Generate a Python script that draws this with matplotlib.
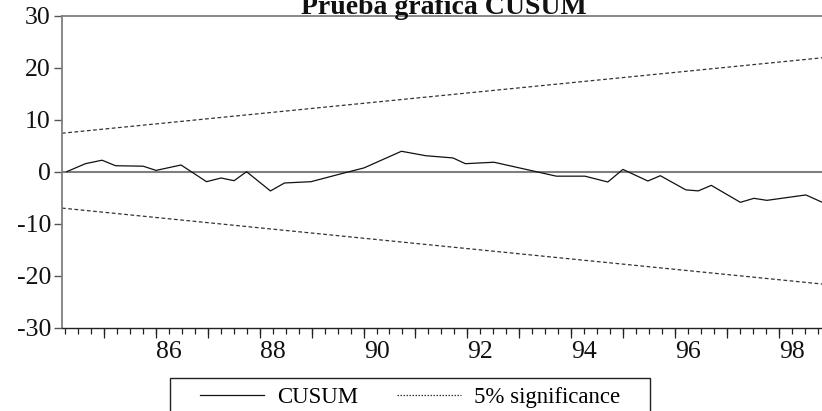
import matplotlib
matplotlib.use("Agg")
import matplotlib.pyplot as plt
import numpy as np
from matplotlib.lines import Line2D
from matplotlib.patches import Rectangle

plt.rcParams['font.family'] = ['Liberation Serif', 'DejaVu Serif']
plt.rcParams['axes.unicode_minus'] = False

# CUSUM (fractional years, 84 = 1984)
cusum_year = [84.04, 84.40, 84.72, 84.98, 85.51, 85.76, 86.24, 86.73, 87.01, 87.26,
              87.50, 87.96, 88.23, 88.74, 89.36, 89.76, 90.48, 90.95, 91.47, 91.71,
              92.26, 93.46, 94.01, 94.45, 94.74, 95.22, 95.46, 95.95, 96.19, 96.44,
              97.00, 97.26, 97.51, 98.26, 98.56]
cusum_value = [0.0, 1.54, 2.21, 1.15, 1.06, 0.25, 1.29, -1.92, -1.21, -1.73,
               0.0, -3.70, -2.17, -1.92, -0.29, 0.73, 3.93, 3.07, 2.65, 1.54,
               1.82, -0.86, -0.86, -1.98, 0.44, -1.79, -0.77, -3.49, -3.69, -2.63,
               -5.89, -5.12, -5.51, -4.47, -5.82]

# 5% significance bounds (straight lines)
bound_year = [83.95, 98.57]
upper_bound = [7.4, 21.9]
lower_bound = [-7.0, -21.6]

y_ticks = [-30, -20, -10, 0, 10, 20, 30]
x_labels = [86, 88, 90, 92, 94, 96, 98]

W, H = 822, 411
fig = plt.figure(figsize=(W / 100, H / 100), dpi=100)
ax = fig.add_axes([62 / W, 1 - 327.7 / H, 1 - 62 / W, (327.7 - 15.7) / H])

ax.axhline(0, color='#7f7f7f', lw=1.5, zorder=1)
ax.plot(cusum_year, cusum_value, color='#111111', lw=0.9, zorder=3)
ax.plot(bound_year, upper_bound, color='#333333', lw=0.9, ls=(0, (3, 2)), zorder=2)
ax.plot(bound_year, lower_bound, color='#333333', lw=0.9, ls=(0, (3, 2)), zorder=2)

ax.set_xlim(83.95, 98.57)
ax.set_ylim(-30, 30)

ax.set_yticks(y_ticks)
ax.set_yticklabels([str(v) for v in y_ticks])
ax.tick_params(axis='y', direction='out', length=6, width=1, color='#555555',
               labelsize=18.5, pad=2, labelcolor='#111111')

ax.set_xticks(x_labels)
ax.set_xticklabels([str(v) for v in x_labels])
ax.set_xticks(np.arange(84.0, 98.6, 0.25), minor=True)
ax.tick_params(axis='x', which='both', direction='out', length=4.5, width=0.9,
               color='#222222', labelsize=18.5, pad=5, labelcolor='#111111')

# longer ticks at the year boundaries
sec = ax.secondary_xaxis('bottom')
sec.set_xticks(np.arange(84.75, 98.6, 1.0))
sec.set_xticklabels([])
sec.tick_params(axis='x', direction='out', length=7, width=0.9, color='#222222')
sec.spines['bottom'].set_visible(False)

ax.spines['right'].set_visible(False)
ax.spines['left'].set_color('#7f7f7f')
ax.spines['left'].set_linewidth(1.3)
ax.spines['top'].set_color('#7f7f7f')
ax.spines['top'].set_linewidth(1.3)
ax.spines['bottom'].set_color('#222222')
ax.spines['bottom'].set_linewidth(1.0)

fig.text(444 / W, 1 - 13.5 / H, 'Prueba gráfica CUSUM', ha='center', va='baseline',
         fontsize=20, fontweight='bold', color='#111111')

# legend box, running off the bottom edge
fig.patches.append(Rectangle((170 / W, -0.05), 480 / W, (1 - 378.3 / H) + 0.05,
                             transform=fig.transFigure, fill=False,
                             edgecolor='#222222', lw=1.0))
handles = [Line2D([], [], color='#111111', lw=0.9),
           Line2D([], [], color='#333333', lw=0.9, ls=(0, (1.2, 1.2)))]
fig.legend(handles, ['CUSUM', '5% significance'], loc='center',
           bbox_to_anchor=(410 / W, 1 - 397 / H), ncol=2, frameon=False,
           fontsize=16.5, handlelength=2.8, handletextpad=0.55, columnspacing=1.7)

fig.savefig('out.png', dpi=100)
